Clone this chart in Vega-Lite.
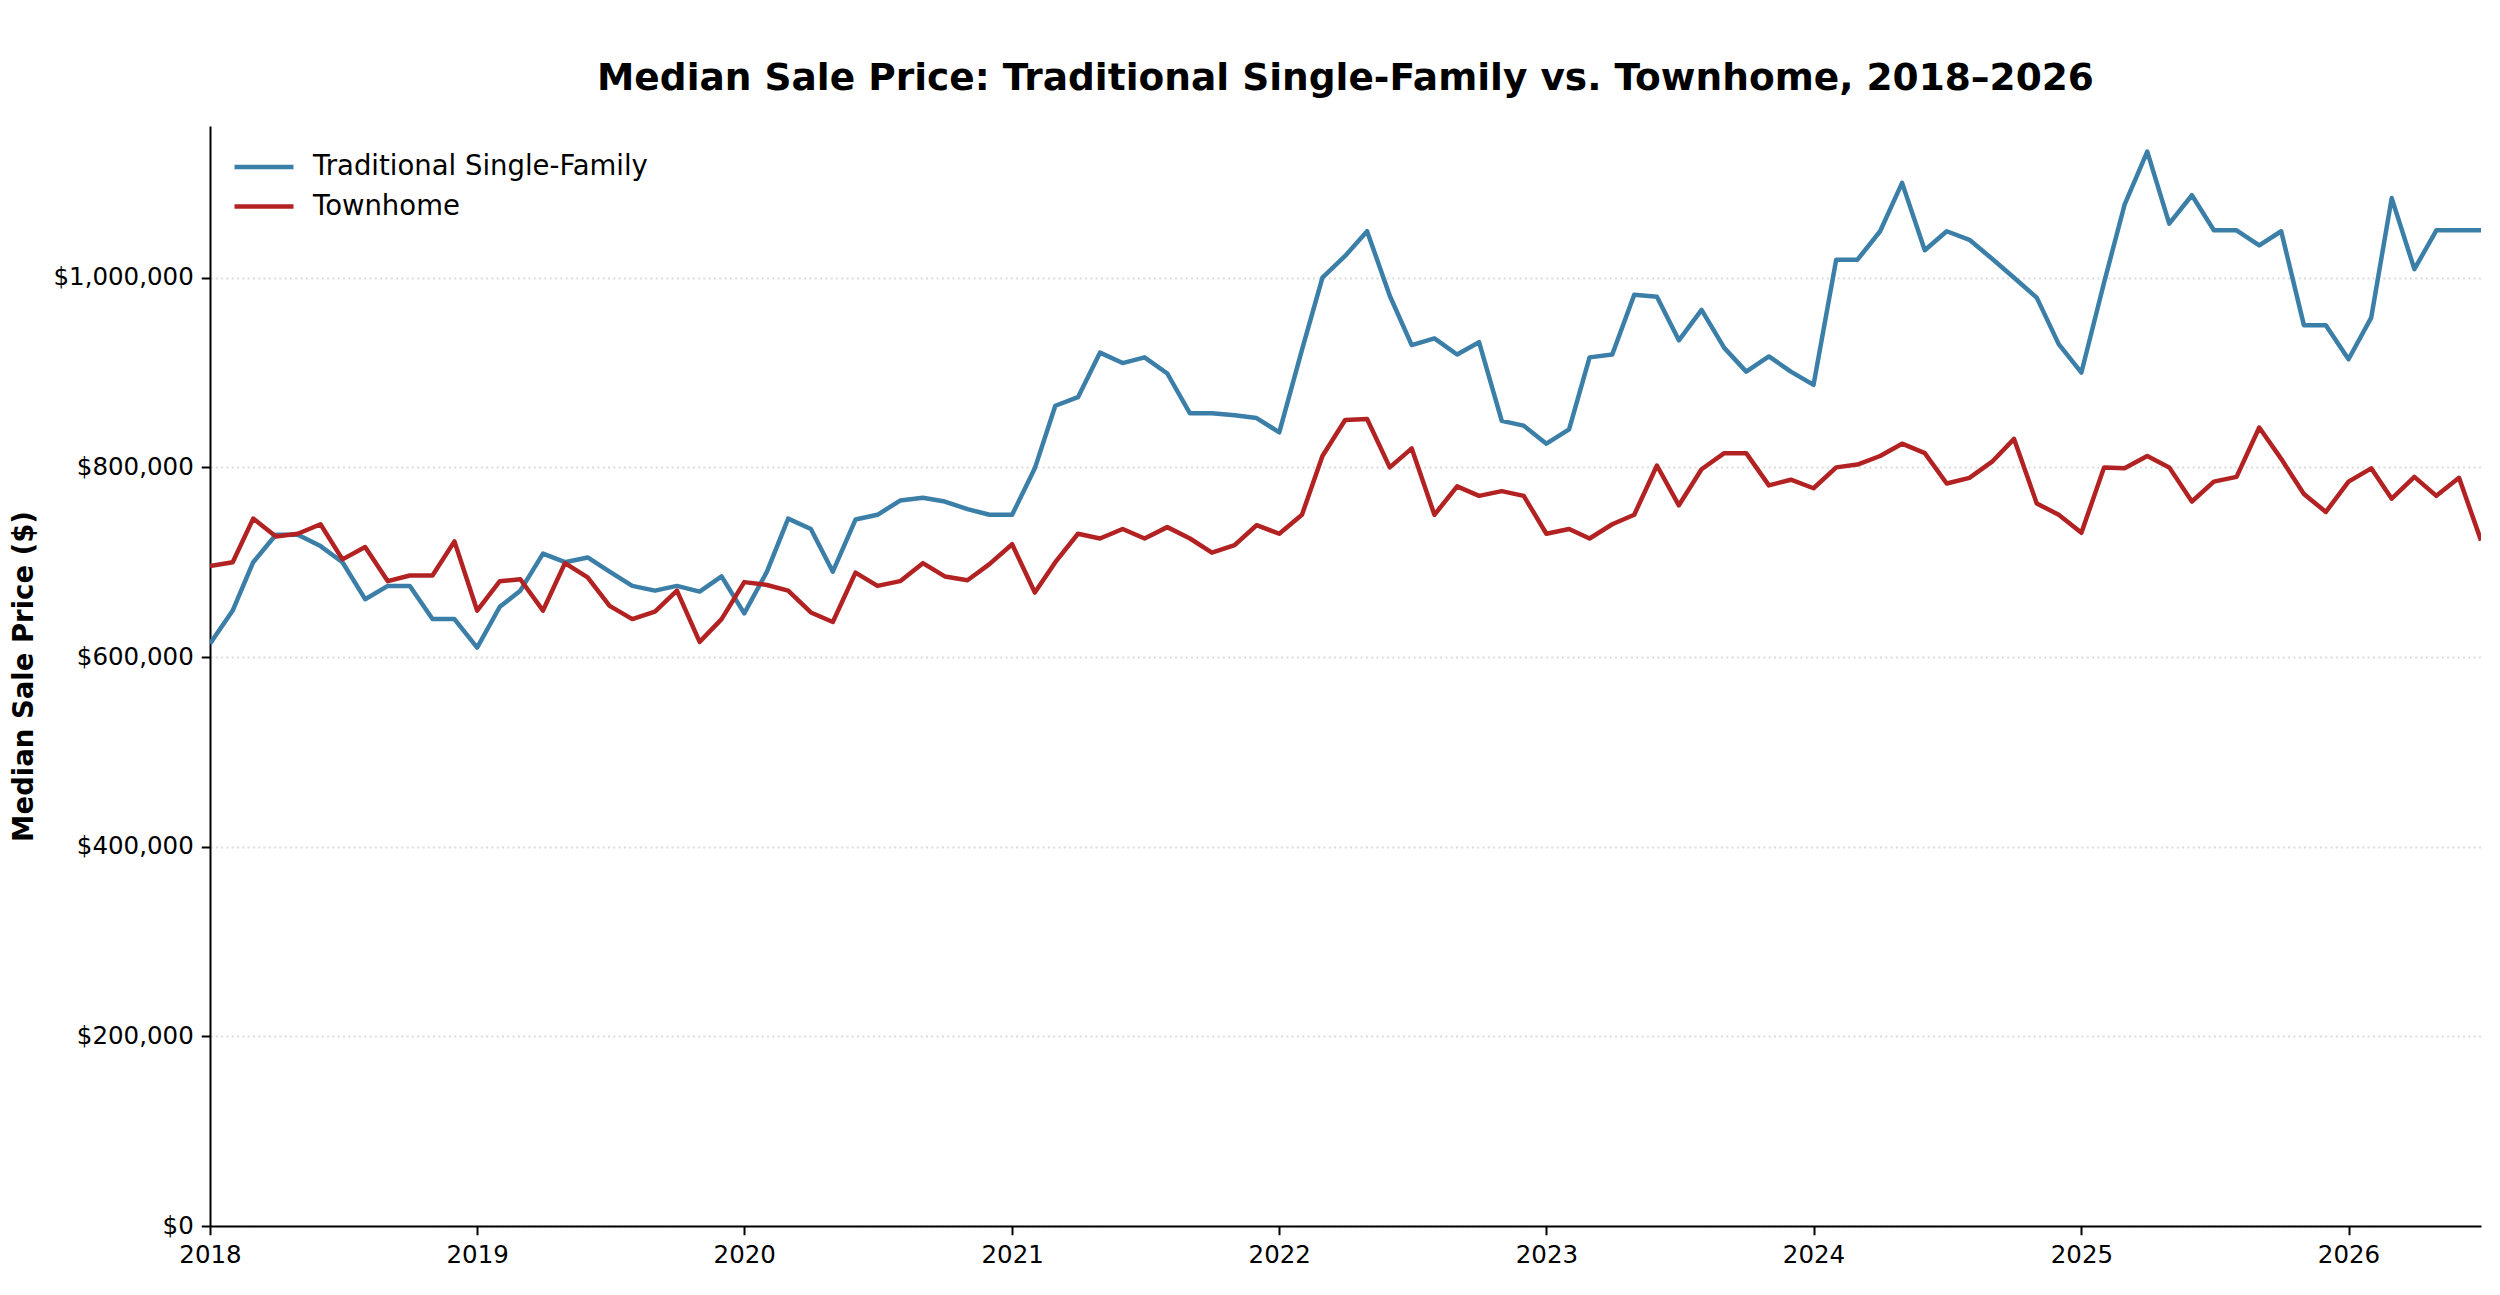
{
  "$schema": "https://vega.github.io/schema/vega-lite/v6.json",
  "width": 2271,
  "height": 1100,
  "autosize": {"type": "none"},
  "padding": {"left": 210, "top": 126, "right": 19, "bottom": 69},
  "background": "white",
  "config": {
    "font": "DejaVu Sans",
    "view": {"stroke": null},
    "axis": {"labelFont": "DejaVu Sans", "titleFont": "DejaVu Sans"}
  },
  "title": {
    "text": "Median Sale Price: Traditional Single-Family vs. Townhome, 2018–2026",
    "fontSize": 37.5,
    "fontWeight": "bold",
    "color": "#000000",
    "anchor": "middle",
    "offset": 29
  },
  "data": {
    "values": [
      {"date": "2018-01-01", "type": "Traditional Single-Family", "price": 614000},
      {"date": "2018-02-01", "type": "Traditional Single-Family", "price": 649000},
      {"date": "2018-03-01", "type": "Traditional Single-Family", "price": 700000},
      {"date": "2018-04-01", "type": "Traditional Single-Family", "price": 729000},
      {"date": "2018-05-01", "type": "Traditional Single-Family", "price": 729000},
      {"date": "2018-06-01", "type": "Traditional Single-Family", "price": 717000},
      {"date": "2018-07-01", "type": "Traditional Single-Family", "price": 700000},
      {"date": "2018-08-01", "type": "Traditional Single-Family", "price": 661000},
      {"date": "2018-09-01", "type": "Traditional Single-Family", "price": 675000},
      {"date": "2018-10-01", "type": "Traditional Single-Family", "price": 675000},
      {"date": "2018-11-01", "type": "Traditional Single-Family", "price": 640000},
      {"date": "2018-12-01", "type": "Traditional Single-Family", "price": 640000},
      {"date": "2019-01-01", "type": "Traditional Single-Family", "price": 610000},
      {"date": "2019-02-01", "type": "Traditional Single-Family", "price": 653000},
      {"date": "2019-03-01", "type": "Traditional Single-Family", "price": 670000},
      {"date": "2019-04-01", "type": "Traditional Single-Family", "price": 709000},
      {"date": "2019-05-01", "type": "Traditional Single-Family", "price": 700000},
      {"date": "2019-06-01", "type": "Traditional Single-Family", "price": 705000},
      {"date": "2019-07-01", "type": "Traditional Single-Family", "price": 690000},
      {"date": "2019-08-01", "type": "Traditional Single-Family", "price": 675000},
      {"date": "2019-09-01", "type": "Traditional Single-Family", "price": 670000},
      {"date": "2019-10-01", "type": "Traditional Single-Family", "price": 675000},
      {"date": "2019-11-01", "type": "Traditional Single-Family", "price": 669000},
      {"date": "2019-12-01", "type": "Traditional Single-Family", "price": 685000},
      {"date": "2020-01-01", "type": "Traditional Single-Family", "price": 646000},
      {"date": "2020-02-01", "type": "Traditional Single-Family", "price": 690000},
      {"date": "2020-03-01", "type": "Traditional Single-Family", "price": 746000},
      {"date": "2020-04-01", "type": "Traditional Single-Family", "price": 735000},
      {"date": "2020-05-01", "type": "Traditional Single-Family", "price": 690000},
      {"date": "2020-06-01", "type": "Traditional Single-Family", "price": 745000},
      {"date": "2020-07-01", "type": "Traditional Single-Family", "price": 750000},
      {"date": "2020-08-01", "type": "Traditional Single-Family", "price": 765000},
      {"date": "2020-09-01", "type": "Traditional Single-Family", "price": 768000},
      {"date": "2020-10-01", "type": "Traditional Single-Family", "price": 764000},
      {"date": "2020-11-01", "type": "Traditional Single-Family", "price": 756000},
      {"date": "2020-12-01", "type": "Traditional Single-Family", "price": 750000},
      {"date": "2021-01-01", "type": "Traditional Single-Family", "price": 750000},
      {"date": "2021-02-01", "type": "Traditional Single-Family", "price": 799000},
      {"date": "2021-03-01", "type": "Traditional Single-Family", "price": 865000},
      {"date": "2021-04-01", "type": "Traditional Single-Family", "price": 874000},
      {"date": "2021-05-01", "type": "Traditional Single-Family", "price": 921000},
      {"date": "2021-06-01", "type": "Traditional Single-Family", "price": 910000},
      {"date": "2021-07-01", "type": "Traditional Single-Family", "price": 916000},
      {"date": "2021-08-01", "type": "Traditional Single-Family", "price": 899000},
      {"date": "2021-09-01", "type": "Traditional Single-Family", "price": 857000},
      {"date": "2021-10-01", "type": "Traditional Single-Family", "price": 857000},
      {"date": "2021-11-01", "type": "Traditional Single-Family", "price": 855000},
      {"date": "2021-12-01", "type": "Traditional Single-Family", "price": 852000},
      {"date": "2022-01-01", "type": "Traditional Single-Family", "price": 837000},
      {"date": "2022-02-01", "type": "Traditional Single-Family", "price": 924000},
      {"date": "2022-03-01", "type": "Traditional Single-Family", "price": 1000000},
      {"date": "2022-04-01", "type": "Traditional Single-Family", "price": 1023000},
      {"date": "2022-05-01", "type": "Traditional Single-Family", "price": 1049000},
      {"date": "2022-06-01", "type": "Traditional Single-Family", "price": 981000},
      {"date": "2022-07-01", "type": "Traditional Single-Family", "price": 929000},
      {"date": "2022-08-01", "type": "Traditional Single-Family", "price": 936000},
      {"date": "2022-09-01", "type": "Traditional Single-Family", "price": 919000},
      {"date": "2022-10-01", "type": "Traditional Single-Family", "price": 932000},
      {"date": "2022-11-01", "type": "Traditional Single-Family", "price": 849000},
      {"date": "2022-12-01", "type": "Traditional Single-Family", "price": 844000},
      {"date": "2023-01-01", "type": "Traditional Single-Family", "price": 825000},
      {"date": "2023-02-01", "type": "Traditional Single-Family", "price": 840000},
      {"date": "2023-03-01", "type": "Traditional Single-Family", "price": 916000},
      {"date": "2023-04-01", "type": "Traditional Single-Family", "price": 919000},
      {"date": "2023-05-01", "type": "Traditional Single-Family", "price": 982000},
      {"date": "2023-06-01", "type": "Traditional Single-Family", "price": 980000},
      {"date": "2023-07-01", "type": "Traditional Single-Family", "price": 934000},
      {"date": "2023-08-01", "type": "Traditional Single-Family", "price": 966000},
      {"date": "2023-09-01", "type": "Traditional Single-Family", "price": 926000},
      {"date": "2023-10-01", "type": "Traditional Single-Family", "price": 901000},
      {"date": "2023-11-01", "type": "Traditional Single-Family", "price": 917000},
      {"date": "2023-12-01", "type": "Traditional Single-Family", "price": 901000},
      {"date": "2024-01-01", "type": "Traditional Single-Family", "price": 887000},
      {"date": "2024-02-01", "type": "Traditional Single-Family", "price": 1019000},
      {"date": "2024-03-01", "type": "Traditional Single-Family", "price": 1019000},
      {"date": "2024-04-01", "type": "Traditional Single-Family", "price": 1049000},
      {"date": "2024-05-01", "type": "Traditional Single-Family", "price": 1100000},
      {"date": "2024-06-01", "type": "Traditional Single-Family", "price": 1029000},
      {"date": "2024-07-01", "type": "Traditional Single-Family", "price": 1049000},
      {"date": "2024-08-01", "type": "Traditional Single-Family", "price": 1040000},
      {"date": "2024-09-01", "type": "Traditional Single-Family", "price": 1020000},
      {"date": "2024-10-01", "type": "Traditional Single-Family", "price": 1000000},
      {"date": "2024-11-01", "type": "Traditional Single-Family", "price": 979000},
      {"date": "2024-12-01", "type": "Traditional Single-Family", "price": 930000},
      {"date": "2025-01-01", "type": "Traditional Single-Family", "price": 900000},
      {"date": "2025-02-01", "type": "Traditional Single-Family", "price": 995000},
      {"date": "2025-03-01", "type": "Traditional Single-Family", "price": 1077000},
      {"date": "2025-04-01", "type": "Traditional Single-Family", "price": 1133000},
      {"date": "2025-05-01", "type": "Traditional Single-Family", "price": 1057000},
      {"date": "2025-06-01", "type": "Traditional Single-Family", "price": 1087000},
      {"date": "2025-07-01", "type": "Traditional Single-Family", "price": 1050000},
      {"date": "2025-08-01", "type": "Traditional Single-Family", "price": 1050000},
      {"date": "2025-09-01", "type": "Traditional Single-Family", "price": 1034000},
      {"date": "2025-10-01", "type": "Traditional Single-Family", "price": 1049000},
      {"date": "2025-11-01", "type": "Traditional Single-Family", "price": 950000},
      {"date": "2025-12-01", "type": "Traditional Single-Family", "price": 950000},
      {"date": "2026-01-01", "type": "Traditional Single-Family", "price": 914000},
      {"date": "2026-02-01", "type": "Traditional Single-Family", "price": 958000},
      {"date": "2026-03-01", "type": "Traditional Single-Family", "price": 1084000},
      {"date": "2026-04-01", "type": "Traditional Single-Family", "price": 1009000},
      {"date": "2026-05-01", "type": "Traditional Single-Family", "price": 1050000},
      {"date": "2026-06-01", "type": "Traditional Single-Family", "price": 1050000},
      {"date": "2026-07-01", "type": "Traditional Single-Family", "price": 1050000},
      {"date": "2018-01-01", "type": "Townhome", "price": 696000},
      {"date": "2018-02-01", "type": "Townhome", "price": 700000},
      {"date": "2018-03-01", "type": "Townhome", "price": 746000},
      {"date": "2018-04-01", "type": "Townhome", "price": 727000},
      {"date": "2018-05-01", "type": "Townhome", "price": 730000},
      {"date": "2018-06-01", "type": "Townhome", "price": 740000},
      {"date": "2018-07-01", "type": "Townhome", "price": 703000},
      {"date": "2018-08-01", "type": "Townhome", "price": 716000},
      {"date": "2018-09-01", "type": "Townhome", "price": 680000},
      {"date": "2018-10-01", "type": "Townhome", "price": 686000},
      {"date": "2018-11-01", "type": "Townhome", "price": 686000},
      {"date": "2018-12-01", "type": "Townhome", "price": 722000},
      {"date": "2019-01-01", "type": "Townhome", "price": 649000},
      {"date": "2019-02-01", "type": "Townhome", "price": 680000},
      {"date": "2019-03-01", "type": "Townhome", "price": 682000},
      {"date": "2019-04-01", "type": "Townhome", "price": 649000},
      {"date": "2019-05-01", "type": "Townhome", "price": 699000},
      {"date": "2019-06-01", "type": "Townhome", "price": 684000},
      {"date": "2019-07-01", "type": "Townhome", "price": 654000},
      {"date": "2019-08-01", "type": "Townhome", "price": 640000},
      {"date": "2019-09-01", "type": "Townhome", "price": 648000},
      {"date": "2019-10-01", "type": "Townhome", "price": 670000},
      {"date": "2019-11-01", "type": "Townhome", "price": 616000},
      {"date": "2019-12-01", "type": "Townhome", "price": 640000},
      {"date": "2020-01-01", "type": "Townhome", "price": 679000},
      {"date": "2020-02-01", "type": "Townhome", "price": 676000},
      {"date": "2020-03-01", "type": "Townhome", "price": 670000},
      {"date": "2020-04-01", "type": "Townhome", "price": 647000},
      {"date": "2020-05-01", "type": "Townhome", "price": 637000},
      {"date": "2020-06-01", "type": "Townhome", "price": 689000},
      {"date": "2020-07-01", "type": "Townhome", "price": 675000},
      {"date": "2020-08-01", "type": "Townhome", "price": 680000},
      {"date": "2020-09-01", "type": "Townhome", "price": 699000},
      {"date": "2020-10-01", "type": "Townhome", "price": 685000},
      {"date": "2020-11-01", "type": "Townhome", "price": 681000},
      {"date": "2020-12-01", "type": "Townhome", "price": 698000},
      {"date": "2021-01-01", "type": "Townhome", "price": 719000},
      {"date": "2021-02-01", "type": "Townhome", "price": 668000},
      {"date": "2021-03-01", "type": "Townhome", "price": 700000},
      {"date": "2021-04-01", "type": "Townhome", "price": 730000},
      {"date": "2021-05-01", "type": "Townhome", "price": 725000},
      {"date": "2021-06-01", "type": "Townhome", "price": 735000},
      {"date": "2021-07-01", "type": "Townhome", "price": 725000},
      {"date": "2021-08-01", "type": "Townhome", "price": 737000},
      {"date": "2021-09-01", "type": "Townhome", "price": 725000},
      {"date": "2021-10-01", "type": "Townhome", "price": 710000},
      {"date": "2021-11-01", "type": "Townhome", "price": 718000},
      {"date": "2021-12-01", "type": "Townhome", "price": 739000},
      {"date": "2022-01-01", "type": "Townhome", "price": 730000},
      {"date": "2022-02-01", "type": "Townhome", "price": 750000},
      {"date": "2022-03-01", "type": "Townhome", "price": 812000},
      {"date": "2022-04-01", "type": "Townhome", "price": 850000},
      {"date": "2022-05-01", "type": "Townhome", "price": 851000},
      {"date": "2022-06-01", "type": "Townhome", "price": 800000},
      {"date": "2022-07-01", "type": "Townhome", "price": 820000},
      {"date": "2022-08-01", "type": "Townhome", "price": 750000},
      {"date": "2022-09-01", "type": "Townhome", "price": 780000},
      {"date": "2022-10-01", "type": "Townhome", "price": 770000},
      {"date": "2022-11-01", "type": "Townhome", "price": 775000},
      {"date": "2022-12-01", "type": "Townhome", "price": 770000},
      {"date": "2023-01-01", "type": "Townhome", "price": 730000},
      {"date": "2023-02-01", "type": "Townhome", "price": 735000},
      {"date": "2023-03-01", "type": "Townhome", "price": 725000},
      {"date": "2023-04-01", "type": "Townhome", "price": 740000},
      {"date": "2023-05-01", "type": "Townhome", "price": 750000},
      {"date": "2023-06-01", "type": "Townhome", "price": 802000},
      {"date": "2023-07-01", "type": "Townhome", "price": 760000},
      {"date": "2023-08-01", "type": "Townhome", "price": 798000},
      {"date": "2023-09-01", "type": "Townhome", "price": 815000},
      {"date": "2023-10-01", "type": "Townhome", "price": 815000},
      {"date": "2023-11-01", "type": "Townhome", "price": 781000},
      {"date": "2023-12-01", "type": "Townhome", "price": 787000},
      {"date": "2024-01-01", "type": "Townhome", "price": 778000},
      {"date": "2024-02-01", "type": "Townhome", "price": 800000},
      {"date": "2024-03-01", "type": "Townhome", "price": 803000},
      {"date": "2024-04-01", "type": "Townhome", "price": 812000},
      {"date": "2024-05-01", "type": "Townhome", "price": 825000},
      {"date": "2024-06-01", "type": "Townhome", "price": 815000},
      {"date": "2024-07-01", "type": "Townhome", "price": 783000},
      {"date": "2024-08-01", "type": "Townhome", "price": 789000},
      {"date": "2024-09-01", "type": "Townhome", "price": 806000},
      {"date": "2024-10-01", "type": "Townhome", "price": 830000},
      {"date": "2024-11-01", "type": "Townhome", "price": 762000},
      {"date": "2024-12-01", "type": "Townhome", "price": 750000},
      {"date": "2025-01-01", "type": "Townhome", "price": 731000},
      {"date": "2025-02-01", "type": "Townhome", "price": 800000},
      {"date": "2025-03-01", "type": "Townhome", "price": 799000},
      {"date": "2025-04-01", "type": "Townhome", "price": 812000},
      {"date": "2025-05-01", "type": "Townhome", "price": 800000},
      {"date": "2025-06-01", "type": "Townhome", "price": 764000},
      {"date": "2025-07-01", "type": "Townhome", "price": 785000},
      {"date": "2025-08-01", "type": "Townhome", "price": 790000},
      {"date": "2025-09-01", "type": "Townhome", "price": 842000},
      {"date": "2025-10-01", "type": "Townhome", "price": 809000},
      {"date": "2025-11-01", "type": "Townhome", "price": 772000},
      {"date": "2025-12-01", "type": "Townhome", "price": 753000},
      {"date": "2026-01-01", "type": "Townhome", "price": 785000},
      {"date": "2026-02-01", "type": "Townhome", "price": 799000},
      {"date": "2026-03-01", "type": "Townhome", "price": 767000},
      {"date": "2026-04-01", "type": "Townhome", "price": 790000},
      {"date": "2026-05-01", "type": "Townhome", "price": 770000},
      {"date": "2026-06-01", "type": "Townhome", "price": 789000},
      {"date": "2026-07-01", "type": "Townhome", "price": 723000}
    ]
  },
  "mark": {"type": "line", "strokeWidth": 4.5, "strokeJoin": "round", "clip": true},
  "encoding": {
    "x": {
      "field": "date",
      "type": "temporal",
      "title": null,
      "scale": {
        "type": "utc",
        "domain": [
          {"year": 2018, "month": 1, "date": 1, "utc": true},
          {"year": 2026, "month": 7, "date": 1, "utc": true}
        ],
        "nice": false
      },
      "axis": {
        "format": "%Y",
        "tickCount": {"interval": "year", "step": 1},
        "grid": false,
        "domainColor": "#000000",
        "domainWidth": 2,
        "tickColor": "#000000",
        "tickWidth": 2,
        "tickSize": 8.75,
        "labelFontSize": 24.5,
        "labelColor": "#000000",
        "labelPadding": 9,
        "labelFlush": false,
        "labelOverlap": false
      }
    },
    "y": {
      "field": "price",
      "type": "quantitative",
      "title": "Median Sale Price ($)",
      "scale": {"domain": [0, 1160000], "nice": false, "zero": true},
      "axis": {
        "values": [0, 200000, 400000, 600000, 800000, 1000000],
        "format": "$,.0f",
        "grid": true,
        "gridColor": "#dcdcdc",
        "gridWidth": 2,
        "gridDash": [2, 3.3],
        "domainColor": "#000000",
        "domainWidth": 2,
        "tickColor": "#000000",
        "tickWidth": 2,
        "tickSize": 8.75,
        "labelFontSize": 24.5,
        "labelColor": "#000000",
        "labelPadding": 8,
        "titleFontSize": 27.5,
        "titleFontWeight": "bold",
        "titleColor": "#000000",
        "titlePadding": 14
      }
    },
    "color": {
      "field": "type",
      "type": "nominal",
      "sort": ["Traditional Single-Family", "Townhome"],
      "scale": {
        "domain": ["Traditional Single-Family", "Townhome"],
        "range": ["#3b7fa8", "#b22222"]
      },
      "legend": {
        "title": null,
        "orient": "none",
        "legendX": 32,
        "legendY": 19,
        "symbolType": "M-1.5,0H1.5",
        "symbolSize": 1547,
        "symbolStrokeWidth": 4.5,
        "symbolFillColor": "transparent",
        "labelFontSize": 27.5,
        "labelColor": "#000000",
        "labelOffset": 27,
        "labelLimit": 1000,
        "rowPadding": 3.5
      }
    }
  }
}
